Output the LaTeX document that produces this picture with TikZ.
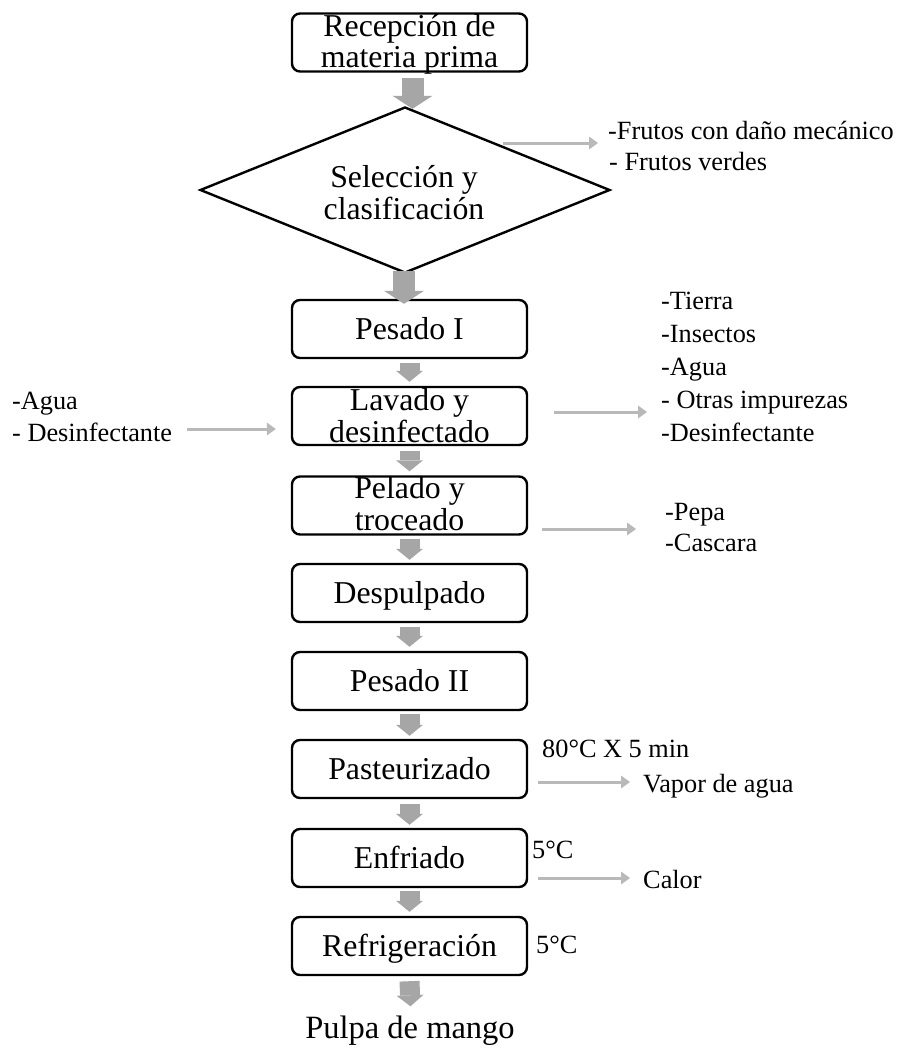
\documentclass[tikz,border=0pt]{standalone}
\usepackage{fontspec}
\setmainfont{Liberation Serif}
\usetikzlibrary{arrows.meta,shapes.geometric}
\definecolor{blockgray}{RGB}{166,166,166}
\definecolor{sidegray}{RGB}{185,185,185}
\tikzset{
  stagebox/.style={draw, line width=2.4pt, rounded corners=8pt,
    minimum width=235pt, minimum height=58pt, inner sep=0pt},
  decision/.style={draw, shape=diamond, line width=2.4pt,
    minimum width=410pt, minimum height=166pt, inner sep=0pt},
  stagetxt/.style={font=\fontsize{31.8}{36}\selectfont, anchor=base, inner sep=0pt},
  sidetxt/.style={font=\fontsize{26.3}{30}\selectfont, anchor=base west, inner sep=0pt},
  flowbig/.style={draw=blockgray, line width=22pt,
    -{Triangle[length=13pt,width=40pt,line width=0pt,fill=blockgray]}},
  flowsmall/.style={draw=blockgray, line width=20pt,
    -{Triangle[length=11pt,width=27pt,line width=0pt,fill=blockgray]}},
  sideflow/.style={draw=sidegray, line width=3pt,
    -{Triangle[length=9pt,width=13pt,line width=0pt,fill=sidegray]}},
}
\begin{document}
\begin{tikzpicture}[x=1pt,y=-1pt]
\fill[white] (0,0) rectangle (901,1049);
\useasboundingbox (0,0) rectangle (901,1049);

% process stages
\node[stagebox] (rec) at (409.5,42.5) {};
\node[decision] (sel) at (405,190) {};
\node[stagebox] (pes1) at (409.5,329) {};
\node[stagebox] (lav) at (409.5,416) {};
\node[stagebox] (pel) at (409.5,505.5) {};
\node[stagebox] (desp) at (409.5,593) {};
\node[stagebox] (pes2) at (409.5,681) {};
\node[stagebox] (past) at (409.5,769) {};
\node[stagebox] (enf) at (409.5,858) {};
\node[stagebox] (refr) at (409.5,946) {};

% stage labels
\node[stagetxt] at (409.5,37) {Recepción de};
\node[stagetxt] at (409.5,67) {materia prima};
\node[stagetxt] at (404,187) {Selección y};
\node[stagetxt] at (404,219) {clasificación};
\node[stagetxt] at (409.5,339.5) {Pesado I};
\node[stagetxt] at (409.5,410) {Lavado y};
\node[stagetxt] at (409.5,442) {desinfectado};
\node[stagetxt] at (409.5,498) {Pelado y};
\node[stagetxt] at (409.5,530) {troceado};
\node[stagetxt] at (409.5,603.5) {Despulpado};
\node[stagetxt] at (409.5,691.5) {Pesado II};
\node[stagetxt] at (409.5,779.5) {Pasteurizado};
\node[stagetxt] at (409.5,868.5) {Enfriado};
\node[stagetxt] at (409.5,956.5) {Refrigeración};
\node[stagetxt, font=\fontsize{32.5}{36}\selectfont] (pulpa) at (410,1038) {Pulpa de mango};

% main flow
\draw[flowbig] ([xshift=3pt,yshift=-5pt]rec.south) -- ([xshift=7.5pt,yshift=-3pt]sel.north);
\draw[flowbig] ([xshift=-1pt,yshift=3pt]sel.south) -- ([xshift=-5.5pt,yshift=-5pt]pes1.north);
\draw[flowsmall] ([yshift=-4pt]pes1.south) -- ([yshift=4pt]lav.north);
\draw[flowsmall] ([yshift=-5pt]lav.south) -- ([yshift=4pt]pel.north);
\draw[flowsmall] ([yshift=-3pt]pel.south) -- ([yshift=3pt]desp.north);
\draw[flowsmall] ([yshift=-4pt]desp.south) -- ([yshift=4pt]pes2.north);
\draw[flowsmall] ([yshift=-3pt]pes2.south) -- ([yshift=3pt]past.north);
\draw[flowsmall] ([yshift=-5pt]past.south) -- ([yshift=3pt]enf.north);
\draw[flowsmall] ([yshift=-3pt]enf.south) -- ([yshift=4pt]refr.north);
\draw[flowsmall] ([yshift=-5pt]refr.south) -- ([xshift=0.5pt,yshift=9pt]pulpa.north);

% rejected fruit
\coordinate (selOut) at (598,143);
\draw[sideflow] ([xshift=98pt,yshift=47pt]sel.center) -- (selOut);
\node[sidetxt] at (608,139) {-Frutos con daño mecánico};
\node[sidetxt] at (609,170) {- Frutos verdes};

% washing inputs and outputs
\coordinate (lavIn) at (187,429);
\draw[sideflow] (lavIn) -- ([xshift=-15pt,yshift=-13pt]lav.west);
\node[sidetxt] at (12,409) {-Agua};
\node[sidetxt] at (12,441) {- Desinfectante};
\coordinate (lavOut) at (647,412);
\draw[sideflow] ([xshift=26pt,yshift=4pt]lav.east) -- (lavOut);
\node[sidetxt] at (661,309) {-Tierra};
\node[sidetxt] at (661,342) {-Insectos};
\node[sidetxt] at (661,375) {-Agua};
\node[sidetxt] at (661,408) {- Otras impurezas};
\node[sidetxt] at (661,441) {-Desinfectante};

% peeling residues
\coordinate (pelOut) at (636,529);
\draw[sideflow] ([xshift=14pt,yshift=-23.5pt]pel.east) -- (pelOut);
\node[sidetxt] at (665,520) {-Pepa};
\node[sidetxt] at (665,551) {-Cascara};

% pasteurizing
\node[sidetxt] at (542,757) {80°C X 5 min};
\coordinate (pastOut) at (630,782);
\draw[sideflow] ([xshift=10pt,yshift=-13pt]past.east) -- (pastOut);
\node[sidetxt] at (643,792) {Vapor de agua};

% cooling
\node[sidetxt] at (532,858) {5°C};
\coordinate (enfOut) at (630,878);
\draw[sideflow] ([xshift=10pt,yshift=-20pt]enf.east) -- (enfOut);
\node[sidetxt] at (643,888) {Calor};

% cold storage
\node[sidetxt] at (536,953) {5°C};
\end{tikzpicture}
\end{document}
